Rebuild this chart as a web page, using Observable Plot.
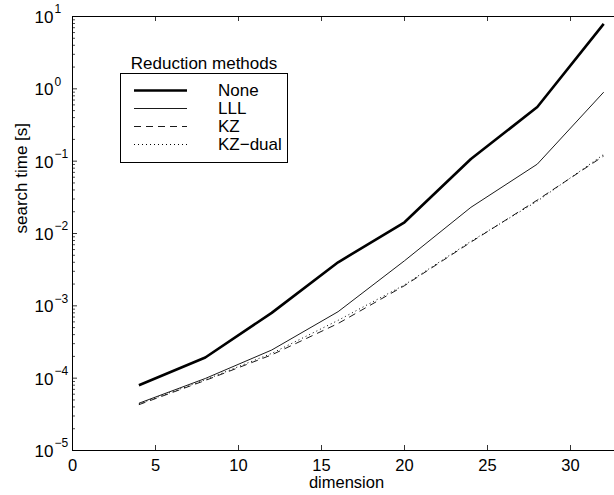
<!DOCTYPE html>
<html>
<head>
<meta charset="utf-8">
<script src="https://cdn.jsdelivr.net/npm/d3@7"></script>
<script src="https://cdn.jsdelivr.net/npm/@observablehq/plot@0.6"></script>
<style>
  html, body { margin: 0; padding: 0; background: #fff; }
  svg { display: block; }
</style>
</head>
<body>
<div id="chart"></div>
<script>
const dims = [4, 8, 12, 16, 20, 24, 28, 32];
const seriesNames = ["None", "LLL", "KZ", "KZ\u2212dual"];
const noneVals = [8e-5, 1.93e-4, 8.0e-4, 4.0e-3, 1.43e-2, 0.107, 0.56, 7.9];
const lllVals = [4.5e-5, 9.9e-5, 2.45e-4, 8.3e-4, 4.2e-3, 2.3e-2, 9.1e-2, 0.9];
const kzVals = [4.3e-5, 9.3e-5, 2.1e-4, 5.7e-4, 1.9e-3, 7.6e-3, 2.9e-2, 0.118];
const kzDualVals = [4.4e-5, 9.5e-5, 2.2e-4, 6.3e-4, 1.95e-3, 7.8e-3, 2.8e-2, 0.124];
const xTicks = [0, 5, 10, 15, 20, 25, 30];
const yExps = [-5, -4, -3, -2, -1, 0, 1];

const W = 614, H = 495;
const mL = 72, mT = 16, mB = 45, mR = 0;
const fw = W - mL - mR, fh = H - mT - mB;

const styles = [
  {name: seriesNames[0], vals: noneVals, width: 2.6, dash: null},
  {name: seriesNames[1], vals: lllVals, width: 0.9, dash: null},
  {name: seriesNames[2], vals: kzVals, width: 0.9, dash: "7,5"},
  {name: seriesNames[3], vals: kzDualVals, width: 1, dash: "1,3"}
];

const lineMarks = styles.map(s =>
  Plot.line(dims.map((d, i) => ({x: d, y: s.vals[i]})), {
    x: "x", y: "y", stroke: "black", strokeWidth: s.width,
    strokeDasharray: s.dash, strokeLinejoin: "round", strokeLinecap: "butt"
  })
);

const majors = yExps.map(e => Math.pow(10, e));
const minors = [];
for (const e of yExps.slice(0, -1)) for (let m = 2; m <= 9; m++) minors.push(m * Math.pow(10, e));

const font = "'Liberation Sans', Arial, Helvetica, sans-serif";

const chart = Plot.plot({
  width: W, height: H,
  marginLeft: mL, marginTop: mT, marginBottom: mB, marginRight: mR,
  style: {fontFamily: font, fontSize: "17px", background: "white", color: "black"},
  x: {domain: [0, fw / 16.6], axis: null},
  y: {type: "log", domain: [1e-5, 10], axis: null},
  marks: [
    ...lineMarks,
    Plot.ruleY([1e-5, 10], {stroke: "black", strokeWidth: 1}),
    Plot.ruleX([0], {stroke: "black", strokeWidth: 1}),
    Plot.tickX(xTicks, {x: d => d, insetTop: fh - 5, stroke: "black", strokeWidth: 0.8}),
    Plot.tickX(xTicks, {x: d => d, insetBottom: fh - 5, stroke: "black", strokeWidth: 0.8}),
    Plot.tickY(majors, {y: d => d, insetRight: fw - 5, stroke: "black", strokeWidth: 0.8}),
    Plot.tickY(minors, {y: d => d, insetRight: fw - 3, stroke: "black", strokeWidth: 0.7}),
    Plot.text(xTicks, {x: d => d, frameAnchor: "bottom", dy: 15, lineAnchor: "middle", text: d => String(d), fontSize: 16.5, fill: "black"}),
    Plot.text(yExps, {y: e => Math.pow(10, e), frameAnchor: "left", dx: -19, dy: 1, textAnchor: "end", lineAnchor: "middle", text: () => "10", fontSize: 17, fill: "black"}),
    Plot.text(yExps, {y: e => Math.pow(10, e), frameAnchor: "left", dx: -18, dy: -7, textAnchor: "start", lineAnchor: "middle", text: e => e < 0 ? "\u2212" + Math.abs(e) : String(e), fontSize: 12, fill: "black"}),
    Plot.text(["search time [s]"], {frameAnchor: "left", dx: -51, rotate: -90, text: d => d, fontSize: 17, fill: "black"}),
    Plot.text(["dimension"], {frameAnchor: "bottom", dx: 3, dy: 37, text: d => d, fontSize: 16.5, fill: "black"})
  ]
});

// Legend (inside the axes, MATLAB style)
const svg = d3.select(chart);
const lg = svg.append("g").attr("font-family", font).attr("font-size", 17).attr("text-anchor", "start");
lg.append("text").attr("x", 204).attr("y", 63).attr("text-anchor", "middle")
  .attr("dominant-baseline", "central").attr("fill", "black").text("Reduction methods");
lg.append("rect").attr("x", 120.5).attr("y", 73.5).attr("width", 167).attr("height", 89)
  .attr("fill", "white").attr("stroke", "black").attr("stroke-width", 1);
styles.forEach((s, i) => {
  const y = 90.5 + i * 18;
  lg.append("line").attr("x1", 134).attr("x2", 187).attr("y1", y).attr("y2", y)
    .attr("stroke", "black").attr("stroke-width", s.width)
    .attr("stroke-dasharray", s.dash);
  lg.append("text").attr("x", 218).attr("y", y).attr("dominant-baseline", "central")
    .attr("text-anchor", "start").attr("fill", "black").text(s.name);
});

document.getElementById("chart").appendChild(chart);
</script>
</body>
</html>
